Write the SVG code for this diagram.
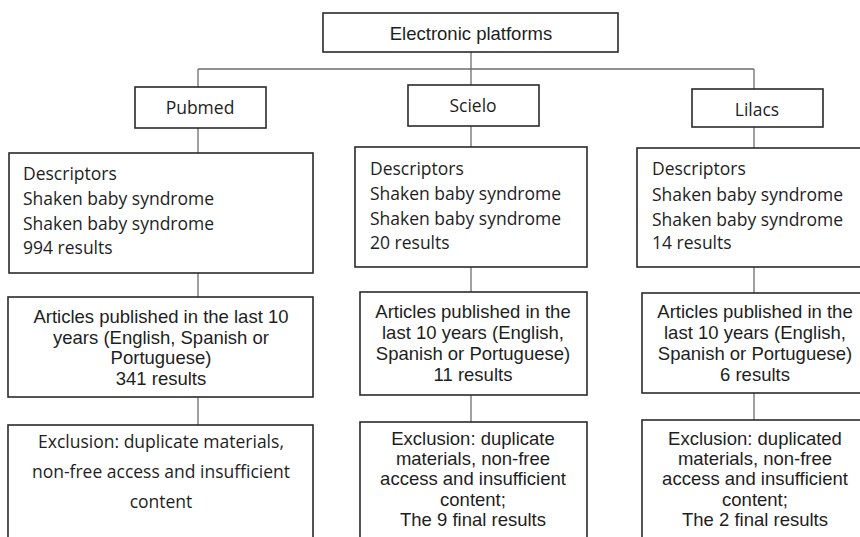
<svg xmlns="http://www.w3.org/2000/svg" width="860" height="537" viewBox="0 0 860 537">
<style>
.box{fill:#fff;stroke:#2a2a2a;stroke-width:1.6}
.con{fill:none;stroke:#6e6e6e;stroke-width:1.3}
.cal{font-family:"Open Sans","Noto Sans",sans-serif;font-size:17.5px;fill:#1e1e1e}
.ari{font-family:"Liberation Sans",Arial,sans-serif;font-size:18.5px;fill:#1e1e1e}
.mid{text-anchor:middle}
</style>
<rect width="860" height="537" fill="#fff"/>
<g id="connectors">
<path class="con" d="M471 52V69M198 69H754M198 69V87M471 69V85M754 69V89"/>
<path class="con" d="M198 128V153M198 273V297M198 397V425"/>
<path class="con" d="M471 126V147M471 267V292M471 395V422"/>
<path class="con" d="M754 127V148M754 267V293M754 393V420"/>
</g>
<g id="electronic-platforms">
<rect class="box" x="323" y="13" width="295" height="39"/>
<text class="ari mid" x="471" y="40">Electronic platforms</text>
</g>
<g id="pubmed">
<rect class="box" x="135" y="87" width="131" height="41"/>
<text class="cal mid" x="200" y="114">Pubmed</text>
</g>
<g id="scielo">
<rect class="box" x="408" y="85" width="131" height="41"/>
<text class="cal mid" x="473" y="112">Scielo</text>
</g>
<g id="lilacs">
<rect class="box" x="692" y="89" width="131" height="38"/>
<text class="cal mid" x="757" y="116">Lilacs</text>
</g>
<g id="pubmed-descriptors">
<rect class="box" x="9" y="153" width="304" height="120"/>
<text class="cal" x="23"><tspan x="23" y="180">Descriptors</tspan><tspan x="23" y="205">Shaken baby syndrome</tspan><tspan x="23" y="230">Shaken baby syndrome</tspan><tspan x="23" y="254">994 results</tspan></text>
</g>
<g id="scielo-descriptors">
<rect class="box" x="355" y="147" width="232" height="120"/>
<text class="cal" x="370"><tspan x="370" y="175">Descriptors</tspan><tspan x="370" y="200">Shaken baby syndrome</tspan><tspan x="370" y="225">Shaken baby syndrome</tspan><tspan x="370" y="249">20 results</tspan></text>
</g>
<g id="lilacs-descriptors">
<rect class="box" x="637" y="148" width="233" height="119"/>
<text class="cal" x="652"><tspan x="652" y="175">Descriptors</tspan><tspan x="652" y="201">Shaken baby syndrome</tspan><tspan x="652" y="226">Shaken baby syndrome</tspan><tspan x="652" y="249">14 results</tspan></text>
</g>
<g id="pubmed-articles">
<rect class="box" x="8" y="297" width="305" height="100"/>
<text class="ari mid"><tspan x="161" y="323">Articles published in the last 10</tspan><tspan x="161" y="344">years (English, Spanish or</tspan><tspan x="161" y="364">Portuguese)</tspan><tspan x="161" y="385">341 results</tspan></text>
</g>
<g id="scielo-articles">
<rect class="box" x="360" y="292" width="227" height="103"/>
<text class="ari mid"><tspan x="473" y="318">Articles published in the</tspan><tspan x="473" y="339">last 10 years (English,</tspan><tspan x="473" y="360">Spanish or Portuguese)</tspan><tspan x="473" y="381">11 results</tspan></text>
</g>
<g id="lilacs-articles">
<rect class="box" x="642" y="293" width="228" height="100"/>
<text class="ari mid"><tspan x="755" y="318">Articles published in the</tspan><tspan x="755" y="339">last 10 years (English,</tspan><tspan x="755" y="360">Spanish or Portuguese)</tspan><tspan x="755" y="381">6 results</tspan></text>
</g>
<g id="pubmed-exclusion">
<rect class="box" x="8" y="425" width="305" height="135"/>
<text class="cal mid"><tspan x="161" y="448">Exclusion: duplicate materials,</tspan><tspan x="161" y="478">non-free access and insufficient</tspan><tspan x="161" y="508">content</tspan></text>
</g>
<g id="scielo-exclusion">
<rect class="box" x="360" y="422" width="227" height="138"/>
<text class="ari mid"><tspan x="473" y="445">Exclusion: duplicate</tspan><tspan x="473" y="465">materials, non-free</tspan><tspan x="473" y="485">access and insufficient</tspan><tspan x="473" y="506">content;</tspan><tspan x="473" y="526">The 9 final results</tspan></text>
</g>
<g id="lilacs-exclusion">
<rect class="box" x="642" y="420" width="228" height="140"/>
<text class="ari mid"><tspan x="755" y="445">Exclusion: duplicated</tspan><tspan x="755" y="465">materials, non-free</tspan><tspan x="755" y="485">access and insufficient</tspan><tspan x="755" y="506">content;</tspan><tspan x="755" y="526">The 2 final results</tspan></text>
</g>
</svg>
